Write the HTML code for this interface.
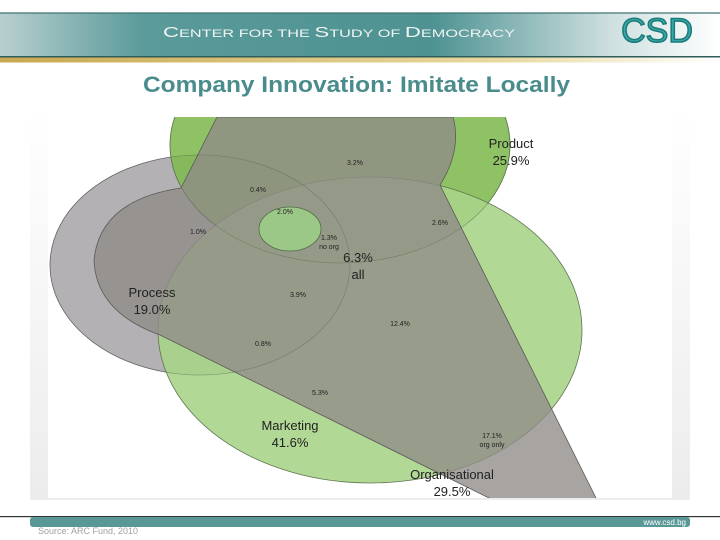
<!DOCTYPE html>
<html><head><meta charset="utf-8"><style>
html,body{margin:0;padding:0;background:#fff;width:720px;height:540px;overflow:hidden;font-family:"Liberation Sans",sans-serif}
#root{position:relative;width:720px;height:540px}
</style></head><body><div id="root">
<svg width="720" height="540" viewBox="0 0 720 540" xmlns="http://www.w3.org/2000/svg">
<defs>
<linearGradient id="hdr" x1="0" x2="1" y1="0" y2="0">
<stop offset="0" stop-color="#b9cfcf"/><stop offset="0.2" stop-color="#5a9a9a"/><stop offset="0.6" stop-color="#4e9292"/><stop offset="0.85" stop-color="#cfe0e0"/><stop offset="1" stop-color="#ffffff"/></linearGradient>
<linearGradient id="gold" x1="0" x2="1"><stop offset="0" stop-color="#c8a850"/><stop offset="0.7" stop-color="#e8d9a0"/><stop offset="1" stop-color="#fff"/></linearGradient>
<linearGradient id="panel" x1="0" x2="0" y1="0" y2="1"><stop offset="0" stop-color="#fff"/><stop offset="1" stop-color="#ececec"/></linearGradient>
<clipPath id="dclip"><rect x="30" y="117" width="660" height="381"/></clipPath>
</defs>
<g>
<rect x="0" y="13" width="720" height="44" fill="url(#hdr)"/>
<rect x="0" y="12" width="720" height="2" fill="#3a6f6f" opacity="0.6"/>
<rect x="0" y="56" width="720" height="1.5" fill="#2f5d5d"/>
<rect x="0" y="57.5" width="720" height="5" fill="url(#gold)"/>
<text x="163" y="37" textLength="352" lengthAdjust="spacingAndGlyphs" fill="#eef4f2" font-size="15">C<tspan font-size="11">ENTER FOR THE </tspan>S<tspan font-size="11">TUDY OF </tspan>D<tspan font-size="11">EMOCRACY</tspan></text>
<text x="657" y="42" text-anchor="middle" fill="#3aa8a8" stroke="#1c7a7a" stroke-width="1.5" font-size="34">CSD</text>
</g>
<text x="143" y="92" textLength="427" lengthAdjust="spacingAndGlyphs" fill="#4a8c8c" font-size="22" font-weight="bold">Company Innovation: Imitate Locally</text>
<rect x="30" y="110" width="660" height="390" fill="url(#panel)"/>
<rect x="48" y="117" width="624" height="381" fill="#fff"/>
<g id="venn" clip-path="url(#dclip)"></g>
<g id="labels"></g>
<g>
<rect x="0" y="516" width="720" height="1.2" fill="#333"/>
<rect x="30" y="517" width="660" height="10" rx="3" fill="#5a9898"/>
<text x="686" y="525" text-anchor="end" fill="#fff" font-size="8">www.csd.bg</text>
<text x="38" y="534" fill="#a0a0a0" font-size="9">Source: ARC Fund, 2010</text>
</g>
</svg></div>
<script>
const setNames=["Product","Process","Marketing","Organisational"];
const setValues=["25.9%","19.0%","41.6%","29.5%"];
const regionValues=["3.2%","0.4%","2.0%","1.0%","2.6%","1.3%","6.3%","3.9%","12.4%","0.8%","5.3%","17.1%"];
const regionNotes=["","","","","","no org","all","","","","","org only"];
const NS="http://www.w3.org/2000/svg";
const venn=document.getElementById('venn'), lab=document.getElementById('labels');
function mk(tag,attrs,parent){const e=document.createElementNS(NS,tag);for(const k in attrs)e.setAttribute(k,attrs[k]);parent.appendChild(e);return e;}
let e;
e=mk('ellipse',{cx:200,cy:265,rx:150,ry:110,fill:'#b3b1b3',stroke:'#6f6f6f','stroke-width':0.8},venn);


e=mk('ellipse',{cx:340,cy:145,rx:170,ry:118,fill:'#7fba4e','fill-opacity':0.88,stroke:'#5b7a4a','stroke-width':0.8},venn);


e=mk('ellipse',{cx:370,cy:330,rx:212,ry:153,fill:'#a8d48a','fill-opacity':0.9,stroke:'#5e7550','stroke-width':0.8},venn);


e=mk('path',{d:'M217,117 L181,188 Q100,200 94,260 Q96,312 160,335 L493,500 L597,500 L440,185 Q462,150 453,117 Z',fill:'#908a88','fill-opacity':0.78,stroke:'#5a5a58','stroke-width':0.8},venn);


e=mk('ellipse',{cx:290,cy:229,rx:31,ry:22,fill:'#9cc887',stroke:'#4f6a44','stroke-width':0.8},venn);


e=mk('ellipse',{cx:340,cy:145,rx:170,ry:118,fill:'none',stroke:'#5b6b50','stroke-width':0.6,'stroke-opacity':0.6},venn);


e=mk('ellipse',{cx:200,cy:265,rx:150,ry:110,fill:'none',stroke:'#5b5b5b','stroke-width':0.6,'stroke-opacity':0.5},venn);


const setPos=[[511,148],[152,297],[290,430],[452,479]];
setNames.forEach((n,i)=>{
 const t=mk('text',{x:setPos[i][0],y:setPos[i][1],'text-anchor':'middle','font-size':13,fill:'#222'},lab);
 
 
 t.textContent=n;
 const v=mk('text',{x:setPos[i][0],y:setPos[i][1]+17,'text-anchor':'middle','font-size':13,fill:'#222'},lab);
 
 
 v.textContent=setValues[i];
});
const regPos=[[355,165],[258,192],[285,214],[198,234],[440,225],[329,240],[358,262],[298,297],[400,326],[263,346],[320,395],[492,438]];
regionValues.forEach((v,i)=>{
 const big=i===6;
 const t=mk('text',{x:regPos[i][0],y:regPos[i][1],'text-anchor':'middle','font-size':big?13:7,fill:'#222'},lab);
 
 
 t.textContent=v;
 if(regionNotes[i]){
  const n=mk('text',{x:regPos[i][0],y:regPos[i][1]+(big?17:9),'text-anchor':'middle','font-size':big?13:7,fill:'#222'},lab);
  
  
  n.textContent=regionNotes[i];
 }
});
</script>
</body></html>
